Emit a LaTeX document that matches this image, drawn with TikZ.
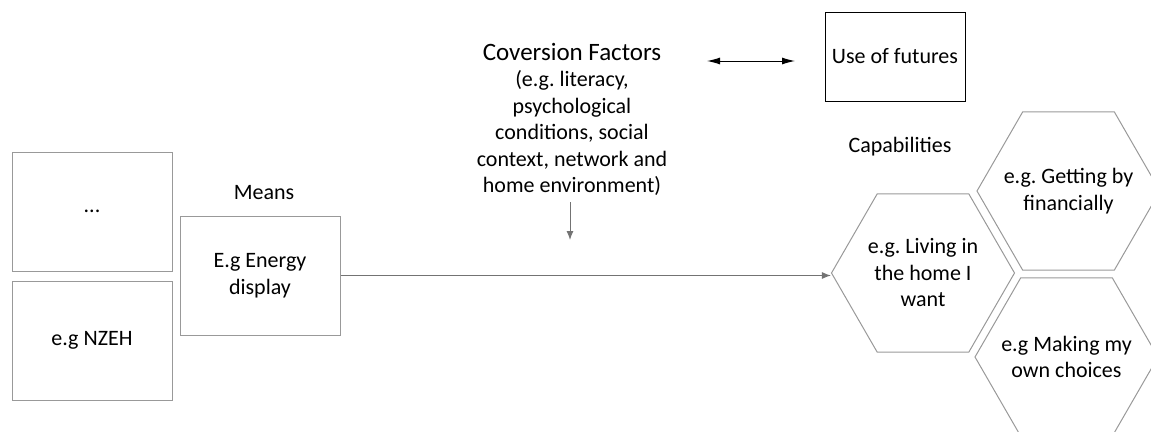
\documentclass[tikz,border=0pt]{standalone}
\usepackage{fontspec}
\setmainfont{Carlito}
\frenchspacing
\usetikzlibrary{arrows.meta,positioning,shapes.geometric}

\begin{document}
\begin{tikzpicture}[
		x=1pt, y=-1pt,
		font=\fontsize{22}{26.5}\selectfont,
		block/.style={draw=black!40, line width=1pt, minimum width=160pt, minimum height=119pt, align=center, inner sep=0pt},
		hexa/.style={draw=black!40, line width=1pt, regular polygon, regular polygon sides=6, minimum size=183pt, inner sep=-20pt, align=center},
		flow/.style={draw=black!55, line width=1pt, -{Latex[length=9pt,width=7pt]}},
		twoway/.style={draw=black, line width=1pt, {Latex[length=13pt,width=7pt]}-{Latex[length=13pt,width=7pt]}},
	]
		\useasboundingbox (0,0) rectangle (1151,431);
		\node[block] (dots) at (92,211.5) {...};
		\node[block, below=9pt of dots] (nzeh) {e.g NZEH};
		\node[block] (means) at (260,275.5) {E.g Energy\\display};
		\node (meanslbl) at (264,193) {Means};
		
		\node[align=center, anchor=north, inner sep=0pt] (conv) at (572,43) {{\fontsize{25}{28}\selectfont Coversion Factors}\\(e.g. literacy,\\psychological\\conditions, social\\context, network and\\home environment)};
		\coordinate (convtip) at (570,240);
		\draw[flow] ([yshift=-6pt]conv.south-|convtip) -- (convtip);
		
		\node[draw, line width=1pt, minimum width=140pt, minimum height=89pt] (fut) at (895,56.5) {Use of futures};
		\coordinate (pairl) at (707,61);
		\coordinate (pairr) at (795,61);
		\draw[twoway] (pairl) -- (pairr);
		
		\node (caps) at (900,147) {Capabilities};
		\node[hexa] (live) at (923,273) {e.g. Living in\\the home I\\want};
		\node[hexa] (money) at (1068.5,191) {e.g. Getting by\\financially};
		\node[hexa] (choice) at (1066.5,357) {e.g Making my\\own choices};
		
		\draw[flow] (means.east) -- (means.east-|live.west);
	\end{tikzpicture}
\end{document}
